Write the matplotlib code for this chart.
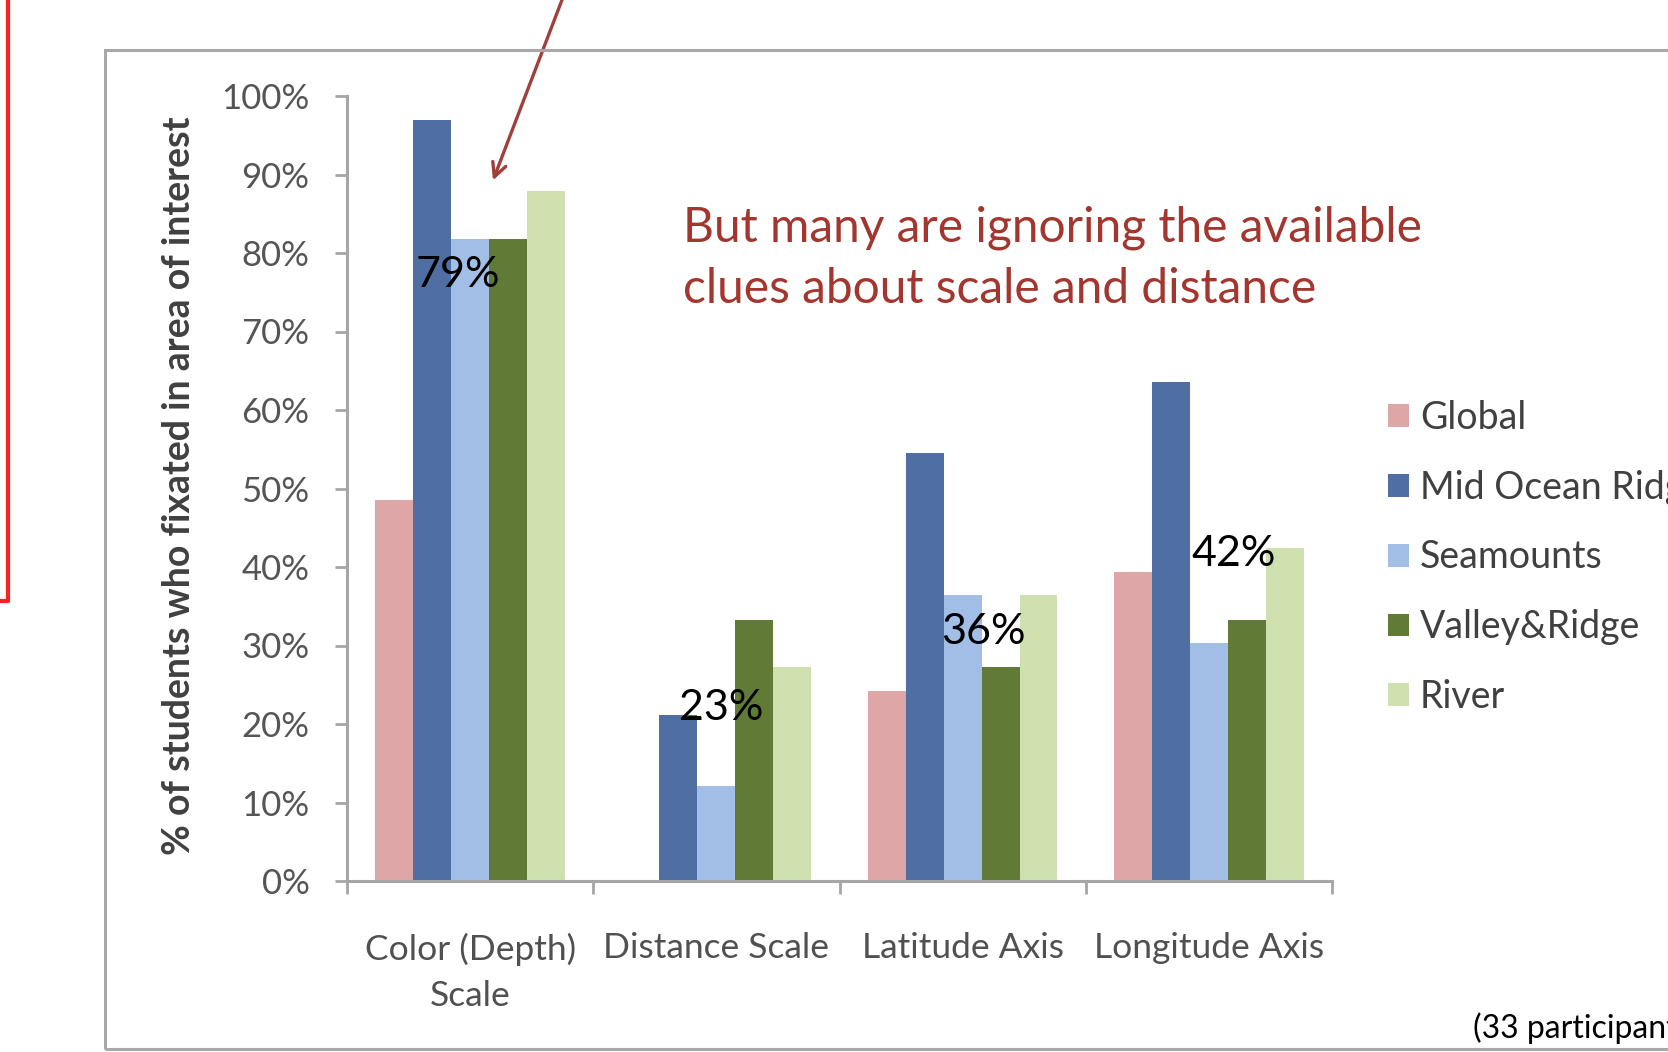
import matplotlib
matplotlib.use('Agg')
import matplotlib.pyplot as plt
import numpy as np
from matplotlib.patches import Rectangle
from matplotlib.lines import Line2D

# data: % of students (33 participants) who fixated in each area of interest
categories = ['Color (Depth)\nScale', 'Distance Scale', 'Latitude Axis', 'Longitude Axis']
series = ['Global', 'Mid Ocean Ridge', 'Seamounts', 'Valley&Ridge', 'River']
global_map = [48.5, 0.0, 24.2, 39.4]
mid_ocean_ridge = [97.0, 21.2, 54.5, 63.6]
seamounts = [81.8, 12.1, 36.4, 30.3]
valley_ridge = [81.8, 33.3, 27.3, 33.3]
river = [87.9, 27.3, 36.4, 42.4]
callouts = ['79%', '23%', '36%', '42%']

colors = ['#dea6a6', '#4f6ea2', '#a3bee6', '#617a36', '#cde0ae']
values = [global_map, mid_ocean_ridge, seamounts, valley_ridge, river]

plt.rcParams['font.family'] = ['Lato', 'DejaVu Sans']

W, H = 1668, 1052
fig = plt.figure(figsize=(W / 100, H / 100), dpi=100)
fig.patch.set_facecolor('white')

def fx(px):
    return px / W

def fy(py):
    return 1 - py / H

ax = fig.add_axes([fx(347), fy(881), fx(1332) - fx(347), fy(96) - fy(881)])

x = np.arange(len(categories))
bw = 0.154
for i, (vals, c) in enumerate(zip(values, colors)):
    ax.bar(x + (i - 2) * bw, vals, bw, color=c, label=series[i], zorder=2)

ax.set_xlim(-0.5, 3.5)
ax.set_ylim(0, 100)
ax.set_yticks(np.arange(0, 101, 10))
ax.set_yticklabels(['%d%%' % v for v in range(0, 101, 10)])
ax.set_xticks(x)
ax.set_xticklabels(categories, linespacing=1.55)
ax.set_xticks(np.arange(-0.5, 3.6, 1), minor=True)

axis_gray = '#a6a6a6'
for s in ['top', 'right']:
    ax.spines[s].set_visible(False)
for s in ['left', 'bottom']:
    ax.spines[s].set_color(axis_gray)
    ax.spines[s].set_linewidth(2.2)
ax.tick_params(axis='y', length=9, width=2, color=axis_gray, labelsize=25,
               labelcolor='#555555', pad=18)
ax.tick_params(axis='x', which='major', length=0, labelsize=25.5,
               labelcolor='#505050', pad=37)
ax.tick_params(axis='x', which='minor', length=9, width=2, color=axis_gray)

ax.set_ylabel('% of students who fixated in area of interest', fontsize=27,
              fontweight='bold', color='#404040')
ax.yaxis.set_label_coords(-0.153, 0.503)

# callout percentages
label_dx = [-0.05, 0.02, 0.086, 0.10]
label_y = [77.2, 22.1, 31.7, 41.6]
for xi, t, dx, ly in zip(x, callouts, label_dx, label_y):
    ax.text(xi + dx, ly, t, ha='center', va='center', fontsize=31,
            color='black', zorder=3)

ax.legend(loc='upper left', bbox_to_anchor=(fx(1388), fy(400)),
          bbox_transform=fig.transFigure, frameon=False, fontsize=27,
          labelcolor='#404040', handlelength=0.55, handleheight=0.55,
          handletextpad=0.3, labelspacing=0.9, borderpad=0, borderaxespad=0)

fig.text(fx(683), fy(258), 'But many are ignoring the available\nclues about scale and distance',
         ha='left', va='center', fontsize=34.5, color='#a3362f', linespacing=1.47)

fig.text(fx(1473), fy(1028), '(33 participants)', ha='left', va='center',
         fontsize=23, color='black')

# chart frame and slide decorations
fig.add_artist(Rectangle((fx(105), fy(1049)), 1.0, fy(50) - fy(1049),
                         transform=fig.transFigure, fill=False,
                         ec='#a8a8a8', lw=2.2))
fig.add_artist(Line2D([fx(8), fx(8), 0], [1.0, fy(601), fy(601)],
                      transform=fig.transFigure, color='#ff2020', lw=3))
ax.annotate('', xy=(fx(492), fy(183)), xycoords='figure fraction',
            xytext=(fx(566), 1.01), textcoords='figure fraction',
            arrowprops=dict(arrowstyle='->,head_length=1.0,head_width=0.5',
                            color='#a0403c', lw=2.4))

fig.savefig('out.png', dpi=100)
